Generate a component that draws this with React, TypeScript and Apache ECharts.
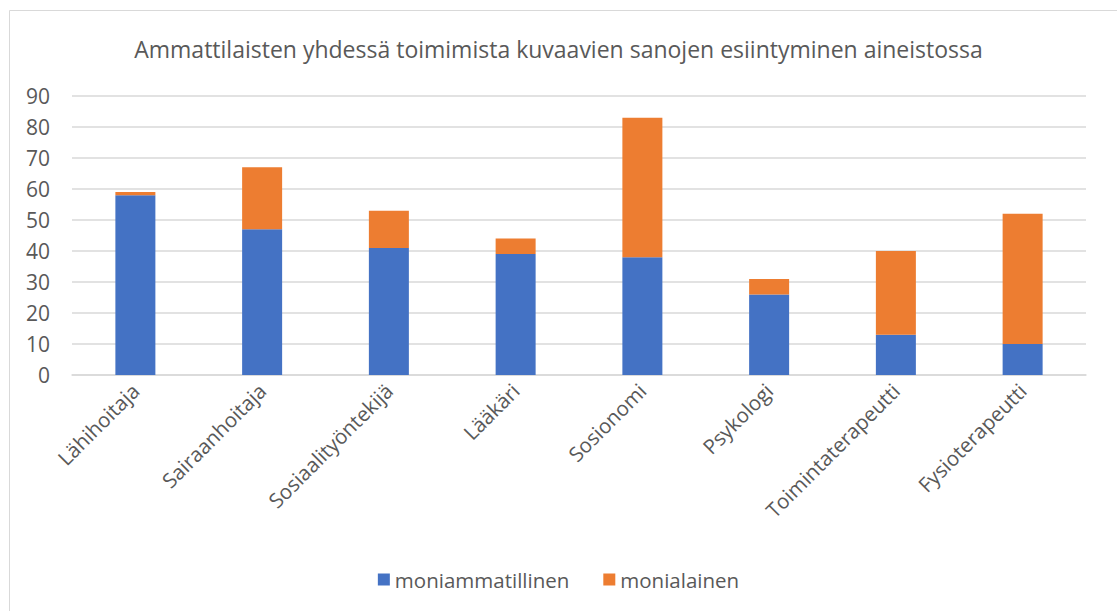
import React, { useEffect, useRef } from "react";
import * as echarts from "echarts";

const categories = ["Lähihoitaja", "Sairaanhoitaja", "Sosiaalityöntekijä", "Lääkäri", "Sosionomi", "Psykologi", "Toimintaterapeutti", "Fysioterapeutti"];
const moniammatillinen = [58, 47, 41, 39, 38, 26, 13, 10];
const monialainen = [1, 20, 12, 5, 45, 5, 27, 42];
const seriesNames = ["moniammatillinen", "monialainen"];
const titleText = "Ammattilaisten yhdessä toimimista kuvaavien sanojen esiintyminen aineistossa";

export default function App() {
  const ref = useRef<HTMLDivElement>(null);
  useEffect(() => {
    const chart = echarts.init(ref.current!, null, { renderer: "svg" });
    const font = "'Open Sans', 'Noto Sans', sans-serif";
    chart.setOption({
      animation: false,
      backgroundColor: "#ffffff",
      textStyle: { fontFamily: font },
      title: {
        text: titleText,
        left: "center",
        top: 32,
        textStyle: { fontFamily: font, fontSize: 23, fontWeight: "normal", color: "#595959" },
      },
      legend: {
        bottom: 16,
        left: "center",
        itemWidth: 12,
        itemHeight: 12,
        itemGap: 34,
        icon: "rect",
        textStyle: { fontFamily: font, fontSize: 20.5, color: "#595959" },
        data: seriesNames,
      },
      graphic: [
        {
          type: "rect",
          shape: { x: 9.5, y: 10.5, width: 1200, height: 700 },
          style: { fill: "none", stroke: "#d9d9d9", lineWidth: 1 },
          silent: true,
        },
      ],
      grid: { left: 72, right: 31, top: 96, bottom: 236 },
      xAxis: {
        type: "category",
        data: categories,
        axisLine: { show: true, lineStyle: { color: "#d9d9d9", width: 1.5 } },
        axisTick: { show: false },
        axisLabel: { rotate: 45, fontSize: 20.5, color: "#595959", margin: 12, fontFamily: font, interval: 0 },
      },
      yAxis: {
        type: "value",
        min: 0,
        max: 90,
        interval: 10,
        axisLine: { show: false },
        axisTick: { show: false },
        splitLine: { lineStyle: { color: "#d9d9d9", width: 1.5 } },
        axisLabel: { fontSize: 21, color: "#595959", margin: 22, align: "right", fontFamily: font },
      },
      series: [
        {
          name: seriesNames[0],
          type: "bar",
          stack: "total",
          data: moniammatillinen,
          barWidth: 40,
          itemStyle: { color: "#4472c4" },
        },
        {
          name: seriesNames[1],
          type: "bar",
          stack: "total",
          data: monialainen,
          barWidth: 40,
          itemStyle: { color: "#ed7d31" },
        },
      ],
    });
    return () => chart.dispose();
  }, []);
  return <div ref={ref} style={{ position: "absolute", left: 0, top: 0, width: 1117, height: 611 }} />;
}
